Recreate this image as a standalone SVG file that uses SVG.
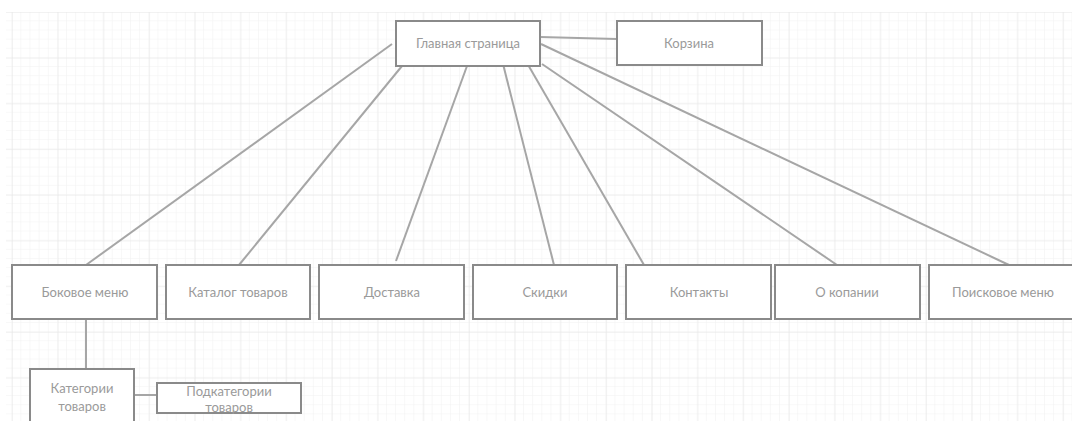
<svg xmlns="http://www.w3.org/2000/svg" width="1072" height="421" viewBox="0 0 1072 421">
<defs>
<pattern id="minor" x="3" y="3" width="9.14" height="9.14" patternUnits="userSpaceOnUse">
<path d="M9.14 0V9.14M0 9.14H9.14" fill="none" stroke="#f1f1f1" stroke-width="1"/>
</pattern>
<pattern id="major" x="12" y="12" width="45.7" height="45.7" patternUnits="userSpaceOnUse">
<path d="M0 0V45.7M0 0H45.7" fill="none" stroke="#e6e6e6" stroke-width="1"/>
</pattern>
<style>
.box{fill:#fff;stroke:#8a8a8a;stroke-width:2}
.lbl{font-family:Lato,"Noto Sans","Liberation Sans",sans-serif;font-size:13px;fill:#9a9a9a;text-anchor:middle}
.con line{stroke:#a6a6a6;stroke-width:2}
</style>
</defs>
<rect width="1072" height="421" fill="#fff"/>
<rect x="6" y="12" width="1066" height="409" fill="url(#minor)"/>
<rect x="6" y="12" width="1066" height="409" fill="url(#major)"/>
<g id="connectors" class="con">
<line x1="540" y1="37" x2="617" y2="39"/>
<line x1="392" y1="44" x2="86" y2="265"/>
<line x1="402" y1="66" x2="239" y2="265"/>
<line x1="467" y1="66" x2="396" y2="261"/>
<line x1="503" y1="64" x2="554" y2="265"/>
<line x1="527" y1="63" x2="644" y2="265"/>
<line x1="542" y1="64" x2="837" y2="265"/>
<line x1="541" y1="44" x2="1009" y2="265"/>
<line x1="86" y1="319" x2="86" y2="369"/>
<line x1="134" y1="395" x2="157" y2="395"/>
</g>
<g id="main"><rect class="box" x="396" y="21" width="144" height="45"/><text class="lbl" x="468" y="48">Главная страница</text></g>
<g id="cart"><rect class="box" x="617" y="21" width="145" height="44"/><text class="lbl" x="689" y="48">Корзина</text></g>
<g id="side"><rect class="box" x="12" y="265" width="145" height="54"/><text class="lbl" x="85" y="297">Боковое меню</text></g>
<g id="catalog"><rect class="box" x="166" y="265" width="144" height="54"/><text class="lbl" x="238" y="297">Каталог товаров</text></g>
<g id="delivery"><rect class="box" x="319" y="265" width="145" height="54"/><text class="lbl" x="392" y="297">Доставка</text></g>
<g id="discounts"><rect class="box" x="473" y="265" width="144" height="54"/><text class="lbl" x="545" y="297">Скидки</text></g>
<g id="contacts"><rect class="box" x="626" y="265" width="145" height="54"/><text class="lbl" x="699" y="297">Контакты</text></g>
<g id="about"><rect class="box" x="775" y="265" width="145" height="54"/><text class="lbl" x="847" y="297">О копании</text></g>
<g id="search"><rect class="box" x="929" y="265" width="145" height="54"/><text class="lbl" x="1003" y="297">Поисковое меню</text></g>
<g id="categories"><rect class="box" x="30" y="369" width="104" height="60"/><text class="lbl" x="82" y="393">Категории</text><text class="lbl" x="82" y="411">товаров</text></g>
<g id="subcategories"><rect class="box" x="157" y="383" width="144" height="30"/><text class="lbl" x="229" y="396">Подкатегории</text><text class="lbl" x="229" y="412">товаров</text></g>
</svg>
